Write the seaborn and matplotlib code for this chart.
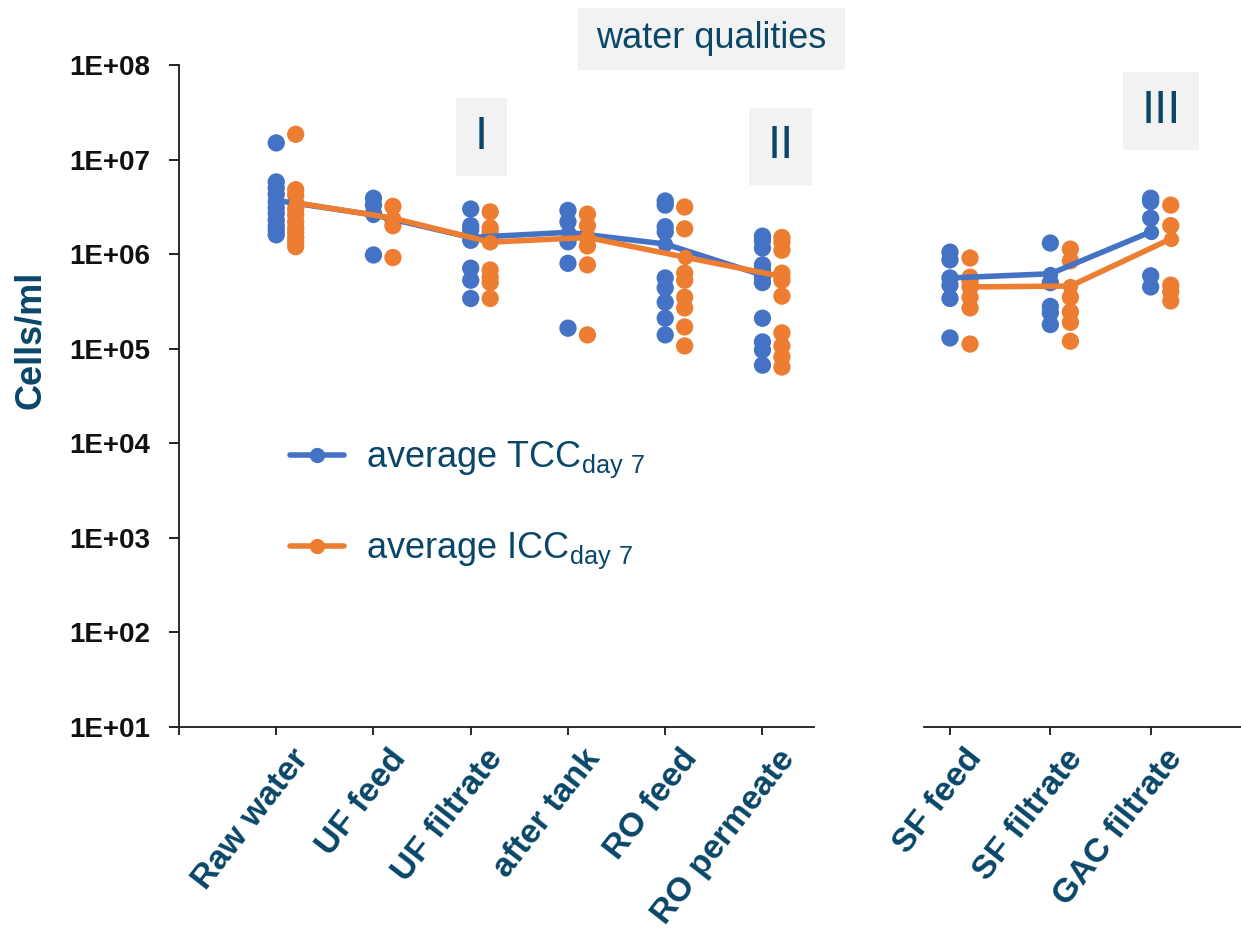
import matplotlib
matplotlib.use("Agg")
import matplotlib.pyplot as plt
import matplotlib.transforms as mtransforms
from matplotlib.lines import Line2D
from matplotlib.patches import Rectangle
from matplotlib.ticker import NullLocator
import pandas as pd
import seaborn as sns

# ------------------------------
# Data (cells/ml)
# ------------------------------
sites_left = ["Raw water", "UF feed", "UF filtrate", "after tank", "RO feed", "RO permeate"]
sites_right = ["SF feed", "SF filtrate", "GAC filtrate"]

tcc_left = [
    [1.5e7, 5.8e6, 5.0e6, 4.3e6, 3.6e6, 3.1e6, 2.7e6, 2.3e6, 2.0e6, 1.8e6, 1.6e6],
    [3.9e6, 3.3e6, 2.7e6, 9.8e5],
    [3.0e6, 2.0e6, 1.8e6, 1.4e6, 7.1e5, 5.3e5, 3.4e5],
    [2.9e6, 2.2e6, 1.35e6, 8.0e5, 1.65e5],
    [3.65e6, 3.3e6, 1.95e6, 1.72e6, 5.6e5, 4.4e5, 3.1e5, 2.1e5, 1.4e5],
    [1.55e6, 1.38e6, 1.16e6, 7.7e5, 6.8e5, 5.7e5, 5.0e5, 2.1e5, 1.18e5, 9.7e4, 6.7e4],
]
icc_left = [
    [1.85e7, 4.8e6, 4.2e6, 3.5e6, 3.0e6, 2.6e6, 2.2e6, 1.9e6, 1.7e6, 1.5e6, 1.35e6, 1.2e6],
    [3.2e6, 2.3e6, 2.0e6, 9.2e5],
    [2.8e6, 1.9e6, 1.7e6, 1.35e6, 6.8e5, 5.7e5, 5.0e5, 3.4e5],
    [2.65e6, 2.0e6, 1.5e6, 1.22e6, 7.7e5, 1.4e5],
    [3.15e6, 1.85e6, 6.3e5, 5.3e5, 3.5e5, 2.7e5, 1.7e5, 1.07e5],
    [1.5e6, 1.34e6, 1.1e6, 6.3e5, 5.3e5, 3.6e5, 1.47e5, 1.07e5, 8.2e4, 6.4e4],
]
avg_tcc_left = [3.7e6, 2.6e6, 1.5e6, 1.7e6, 1.28e6, 6.0e5]
avg_icc_left = [3.5e6, 2.4e6, 1.34e6, 1.5e6, 9.3e5, 5.8e5]

tcc_right = [
    [1.05e6, 8.7e5, 5.6e5, 4.7e5, 3.4e5, 1.3e5],
    [1.31e6, 5.0e5, 2.8e5, 2.4e5, 1.8e5],
    [3.9e6, 3.6e6, 2.4e6, 5.9e5, 4.5e5],
]
icc_right = [
    [9.1e5, 5.7e5, 5.1e5, 4.5e5, 3.5e5, 2.7e5, 1.12e5],
    [1.13e6, 8.5e5, 3.5e5, 2.45e5, 1.9e5, 1.2e5],
    [3.3e6, 2.0e6, 4.7e5, 4.0e5, 3.2e5],
]
avg_tcc_right = [5.6e5, 6.2e5, 1.72e6]
avg_icc_right = [4.5e5, 4.6e5, 1.45e6]

BLUE = "#4472C4"
ORANGE = "#ED7D31"
TEAL = "#0A4668"
BOXGREY = "#F2F2F2"
PAL = {"TCC": BLUE, "ICC": ORANGE}
ICC_SHIFT = 0.2

sns.set_theme(style="white")
plt.rcParams["font.family"] = ["Liberation Sans", "DejaVu Sans"]
plt.rcParams["mathtext.fontset"] = "custom"
plt.rcParams["mathtext.rm"] = "Liberation Sans"


def points_frame(tcc, icc):
    rows = []
    for i in range(len(tcc)):
        rows += [(i + 1, v, "TCC") for v in tcc[i]]
        rows += [(i + 1 + ICC_SHIFT, v, "ICC") for v in icc[i]]
    return pd.DataFrame(rows, columns=["pos", "cells", "series"])


def avg_frame(avg_tcc, avg_icc):
    rows = [(i + 1, v, "TCC") for i, v in enumerate(avg_tcc)]
    rows += [(i + 1 + ICC_SHIFT, v, "ICC") for i, v in enumerate(avg_icc)]
    return pd.DataFrame(rows, columns=["pos", "cells", "series"])


def draw_panel(ax, tcc, icc, avg_tcc, avg_icc):
    sns.scatterplot(data=points_frame(tcc, icc), x="pos", y="cells", hue="series",
                    palette=PAL, s=155, edgecolor="none", legend=False, ax=ax, zorder=3)
    sns.lineplot(data=avg_frame(avg_tcc, avg_icc), x="pos", y="cells", hue="series",
                 palette=PAL, marker="o", markersize=11, markeredgewidth=0,
                 linewidth=4, sort=False, legend=False, ax=ax, zorder=4)
    ax.set_yscale("log")
    ax.set_ylim(10, 1e8)
    ax.set_xlabel("")
    ax.set_ylabel("")


W, H = 1241, 930
fig = plt.figure(figsize=(W / 100, H / 100), dpi=100)


def fx(px):
    return px / W


def fy(py):
    return 1 - py / H


ax_l = fig.add_axes([fx(179), fy(727), fx(814) - fx(179), fy(65) - fy(727)])
ax_r = fig.add_axes([fx(924), fy(727), fx(1241) - fx(924), fy(65) - fy(727)])

draw_panel(ax_l, tcc_left, icc_left, avg_tcc_left, avg_icc_left)
draw_panel(ax_r, tcc_right, icc_right, avg_tcc_right, avg_icc_right)

# left panel axes
ax_l.set_xlim(0, 6.53)
ax_l.set_xticks(range(0, 7))
ax_l.set_xticklabels([""] + sites_left)
ax_l.set_yticks([10 ** k for k in range(1, 9)])
ax_l.set_yticklabels([f"1E+{k:02d}" for k in range(1, 9)])
ax_l.yaxis.set_minor_locator(NullLocator())
for side in ["top", "right"]:
    ax_l.spines[side].set_visible(False)
for side in ["left", "bottom"]:
    ax_l.spines[side].set_color("#1a1a1a")
    ax_l.spines[side].set_linewidth(1.3)
ax_l.tick_params(axis="y", which="major", direction="out", length=7, width=1.3,
                 pad=14, labelsize=20, colors="#111111", left=True)
for lab in ax_l.get_yticklabels():
    lab.set_fontweight("bold")

# right panel axes
ax_r.set_xlim(0.741, 3.9)
ax_r.set_xticks([1, 2, 3])
ax_r.set_xticklabels(sites_right)
ax_r.set_yticks([])
ax_r.yaxis.set_minor_locator(NullLocator())
for side in ["top", "right", "left"]:
    ax_r.spines[side].set_visible(False)
ax_r.spines["bottom"].set_color("#1a1a1a")
ax_r.spines["bottom"].set_linewidth(1.3)

shift = mtransforms.ScaledTranslation(14 / 100, 0, fig.dpi_scale_trans)
for ax in (ax_l, ax_r):
    ax.set_facecolor("none")
    ax.tick_params(axis="x", direction="out", length=6, width=1.3, pad=6,
                   color="#1a1a1a", bottom=True)
    for lab in ax.get_xticklabels():
        lab.set_rotation(52)
        lab.set_ha("right")
        lab.set_va("top")
        lab.set_rotation_mode("anchor")
        lab.set_fontsize(24.5)
        lab.set_fontweight("bold")
        lab.set_color(TEAL)
        lab.set_transform(lab.get_transform() + shift)

fig.text(fx(30), fy(340), "Cells/ml", rotation=90, ha="center", va="center",
         fontsize=26, fontweight="bold", color=TEAL)

# grey label boxes
boxes = [
    ("water qualities", 578, 8, 845, 70, 26),
    ("I", 456, 98, 507, 176, 34),
    ("II", 749, 108, 812, 185, 34),
    ("III", 1123, 72, 1199, 150, 34),
]
for txt, x0, y0, x1, y1, size in boxes:
    fig.add_artist(Rectangle((fx(x0), fy(y1)), fx(x1) - fx(x0), fy(y0) - fy(y1),
                             transform=fig.transFigure, facecolor=BOXGREY,
                             edgecolor="none", zorder=0))
    fig.text(fx((x0 + x1) / 2), fy((y0 + y1) / 2), txt, ha="center", va="center",
             fontsize=size, color=TEAL)

# legend
handles = [
    Line2D([], [], color=BLUE, lw=4, marker="o", markersize=11, markeredgewidth=0),
    Line2D([], [], color=ORANGE, lw=4, marker="o", markersize=11, markeredgewidth=0),
]
labels = [r"average TCC$_{\mathregular{day\ 7}}$", r"average ICC$_{\mathregular{day\ 7}}$"]
fig.legend(handles, labels, loc="upper left", bbox_to_anchor=(fx(290), fy(440)),
           frameon=False, fontsize=26, handlelength=1.5, handletextpad=0.6,
           labelspacing=1.4, borderpad=0, borderaxespad=0, labelcolor=TEAL)

fig.savefig("out.png", dpi=100)
plt.close(fig)
